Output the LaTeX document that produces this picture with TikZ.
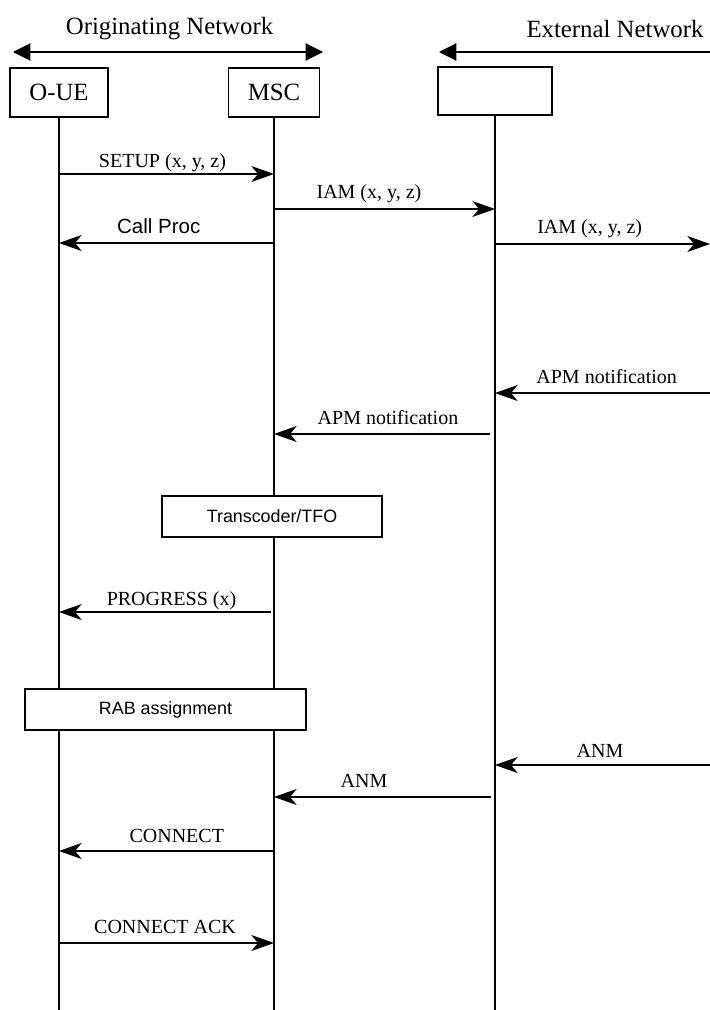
\documentclass[tikz,border=0pt]{standalone}
\usepackage{fontspec}
\setmainfont{Liberation Serif}
\setsansfont{Liberation Sans}
\usetikzlibrary{arrows.meta}
\begin{document}
\begin{tikzpicture}[x=0.75pt,y=-0.75pt,
  ent/.style={draw,line width=0.9pt,font=\fontsize{18.6}{20}\selectfont,inner sep=0pt},
  life/.style={line width=0.9pt},
  msg/.style={line width=0.9pt,-{Stealth[length=17pt,width=12pt,inset=5pt]}},
  lbl/.style={anchor=base,font=\fontsize{15}{16}\selectfont,inner sep=0pt},
  albl/.style={anchor=base,font=\sffamily\fontsize{15.4}{16}\selectfont,inner sep=0pt},
  act/.style={draw,fill=white,line width=0.9pt,font=\sffamily\fontsize{13.4}{14}\selectfont,inner sep=0pt,minimum height=30.75pt},
  net/.style={line width=0.9pt},
  head/.style={anchor=base,font=\fontsize{18.6}{20}\selectfont,inner sep=0pt}
]
\useasboundingbox (0,0) rectangle (710,1010);

% network headers
\coordinate (on1) at (13,52);
\coordinate (on2) at (323,52);
\coordinate (en1) at (439,52);
\coordinate (en2) at (710,52);
\draw[net,{Triangle[length=13pt,width=13pt]}-{Triangle[length=13pt,width=13pt]}] (on1) -- (on2);
\draw[net,-{Triangle[length=13pt,width=13pt]}] (en2) -- (en1);
\node[head] (ontxt) at (169.5,34) {Originating Network};
\node[head] (entxt) at (615,37) {External Network};

% entities
\node[ent,minimum width=73.5pt,minimum height=36.75pt] (ue) at (59,92.5) {O-UE};
\node[ent,minimum width=68.25pt,minimum height=36.75pt] (msc) at (274,92.5) {MSC};
\node[ent,minimum width=85.5pt,minimum height=36pt] (ext) at (495,91) {};

% lifelines
\coordinate (ueb) at (59,1010);
\coordinate (mscb) at (274,1010);
\coordinate (extb) at (495,1010);
\draw[life] (ue.south) -- (ueb);
\draw[life] (msc.south) -- (mscb);
\draw[life] (ext.south) -- (extb);

% action boxes
\node[act,minimum width=165pt] (tfo) at (272,516.5) {Transcoder/TFO};
\node[act,minimum width=210.75pt] (rab) at (165.5,709.5) {RAB assignment};

% right edge coordinates
\coordinate (r1) at (710,244);
\coordinate (r2) at (710,393);
\coordinate (r3) at (710,765);

% messages
\draw[msg] (ue |- 0,174) -- (msc |- 0,174);
\node[lbl] (m1) at (162.5,167) {SETUP (x, y, z)};

\draw[msg] (msc |- 0,209) -- (ext |- 0,209);
\node[lbl] (m2) at (369,198) {IAM (x, y, z)};

\draw[msg] (msc |- 0,243) -- (ue |- 0,243);
\node[albl] (m3) at (158.7,233) {Call Proc};

\draw[msg] (ext |- 0,244) -- (r1);
\node[lbl] (m4) at (589.7,233) {IAM (x, y, z)};

\draw[msg] (r2) -- (ext |- 0,393);
\node[lbl] (m5) at (606.7,383) {APM notification};

\draw[msg,shorten <=4pt] (ext |- 0,434) -- (msc |- 0,434);
\node[lbl] (m6) at (388,424) {APM notification};

\draw[msg,shorten <=2pt] (msc |- 0,612) -- (ue |- 0,612);
\node[lbl] (m7) at (171.5,605) {PROGRESS (x)};

\draw[msg] (r3) -- (ext |- 0,765);
\node[lbl] (m8) at (600,757) {ANM};

\draw[msg,shorten <=3pt] (ext |- 0,797) -- (msc |- 0,797);
\node[lbl] (m9) at (364,787) {ANM};

\draw[msg,shorten <=1pt] (msc |- 0,851) -- (ue |- 0,851);
\node[lbl] (m10) at (176.8,842) {CONNECT};

\draw[msg] (ue |- 0,943) -- (msc |- 0,943);
\node[lbl] (m11) at (165,933) {CONNECT ACK};
\end{tikzpicture}
\end{document}
